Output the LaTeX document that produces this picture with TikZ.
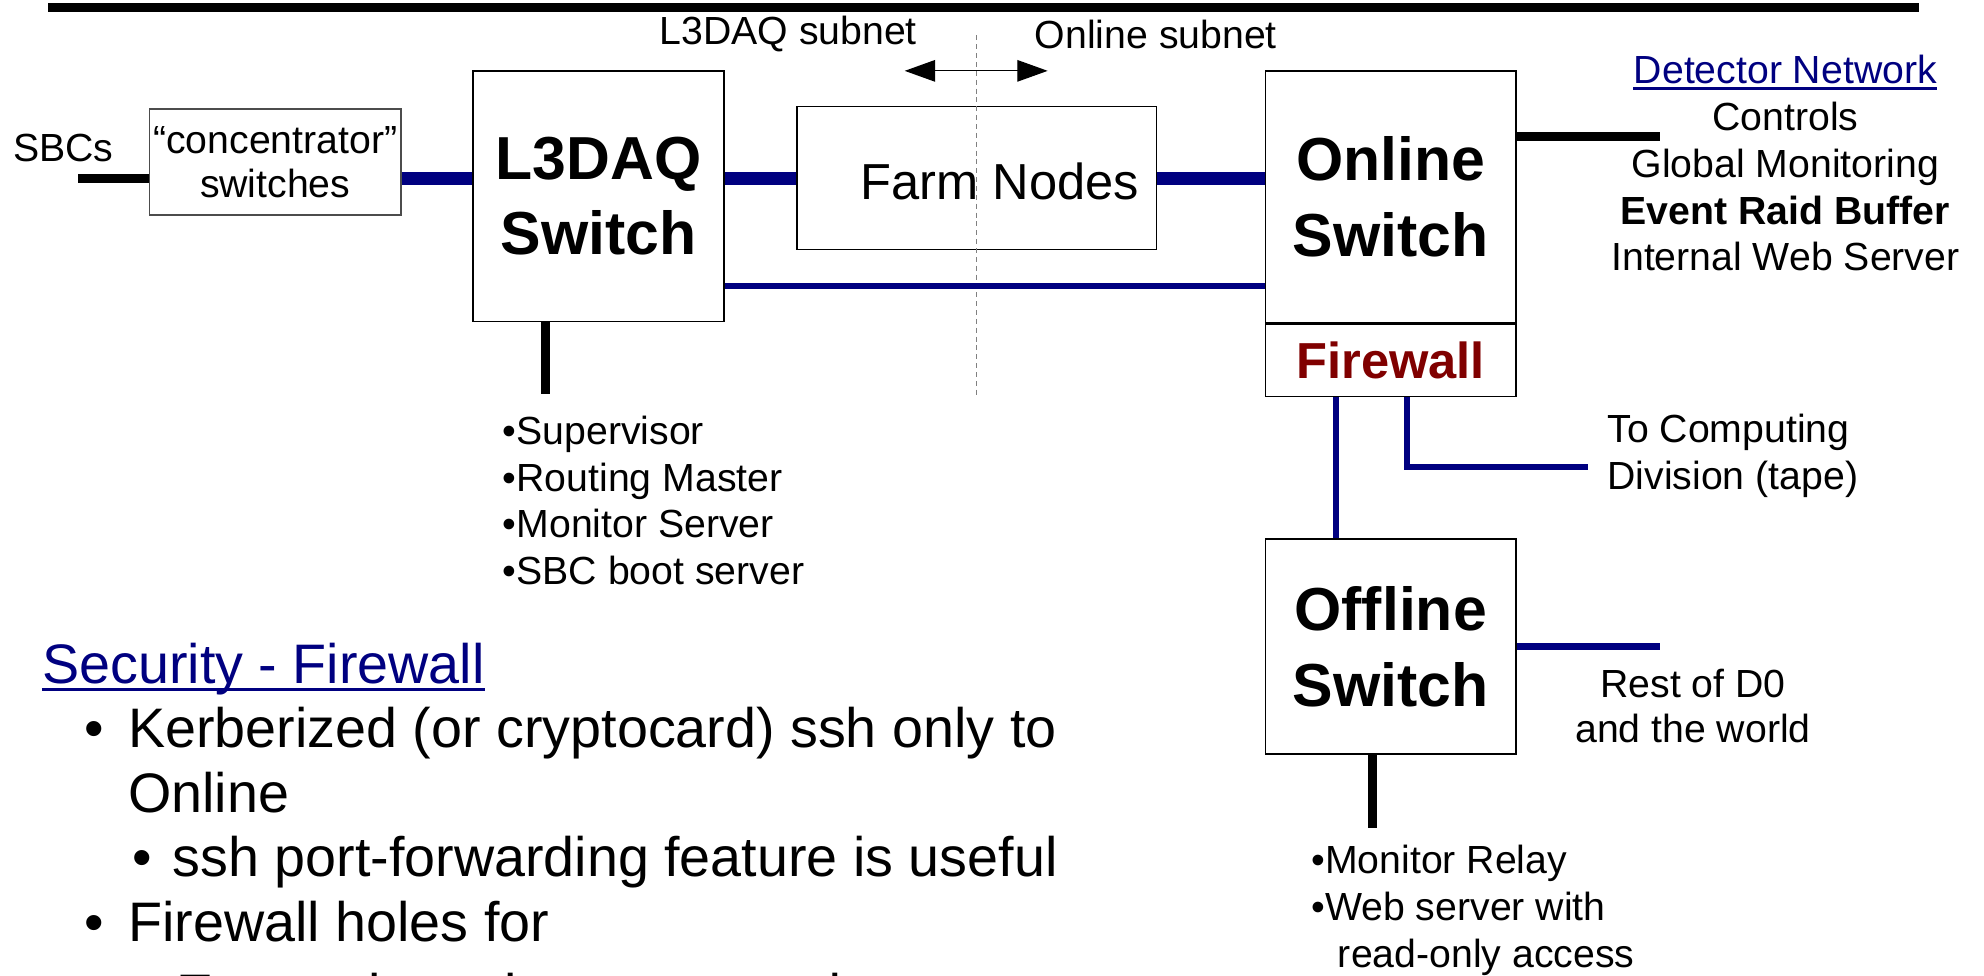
\documentclass[tikz,border=0pt]{standalone}
\usepackage{fontspec}
\setmainfont{Liberation Sans}
\usepackage{xcolor}
\usetikzlibrary{arrows.meta,positioning,calc}

\definecolor{netblue}{RGB}{0,0,128}
\definecolor{fwred}{RGB}{128,0,0}

\begin{document}
\begin{tikzpicture}[x=0.5pt, y=-0.5pt, >={Triangle[length=12pt,width=8.5pt]},
  box/.style={draw, line width=0.6pt, inner sep=0pt, align=center},
  swbox/.style={box, minimum width=99pt, font=\fontsize{24}{30}\selectfont\bfseries},
  lbl/.style={inner sep=0pt, align=center, font=\fontsize{15.5}{18.5}\selectfont},
  txt/.style={inner sep=0pt, anchor=base west, font=\fontsize{22}{26}\selectfont},
  fat/.style={netblue, line width=5pt},
  lan/.style={netblue, line width=2.5pt},
  wire/.style={black, line width=3.5pt}]
  \useasboundingbox (0,0) rectangle (1568,771);
  % title rule
  \coordinate (barl) at (38,6);
  \coordinate (barr) at (1517,6);
  \draw[line width=3.5pt] (barl) -- (barr);
  % boxes
  \node[box, draw=black!70, minimum width=99.5pt, minimum height=42pt,
    font=\fontsize{15.5}{17.5}\selectfont] (conc) at (217.5,128) {``concentrator''\\switches};
  \node[swbox, minimum height=99pt] (l3daq) at (473,155) {L3DAQ\\Switch};
  \node[box, minimum width=142pt, minimum height=56.5pt] (farm) at (772,140.5) {};
  \node[inner sep=0pt, font=\fontsize{20}{24}\selectfont] (farmtxt) at (790,143) {Farm Nodes};
  \node[swbox, minimum height=99.5pt] (online) at (1099,155.5) {Online\\Switch};
  \node[box, minimum width=99pt, minimum height=28.5pt, anchor=north, text=fwred,
    font=\fontsize{20}{24}\selectfont\bfseries] (fw) at (online.south) {Firewall};
  \node[swbox, minimum height=85pt] (offline) at (1099,511) {Offline\\Switch};
  % subnet divider
  \coordinate (divtop) at (772,28);
  \coordinate (divbot) at (772,312);
  \draw[gray, line width=0.5pt, dash pattern=on 2pt off 1.5pt] (divtop) -- (divbot);
  \node[lbl] (l3sub) at (623,27) {L3DAQ subnet};
  \node[lbl] (onsub) at (913.5,27) {Online subnet};
  \coordinate (subl) at (715,56);
  \coordinate (subr) at (828,56);
  \draw[<->, line width=0.5pt] (subl) -- (subr);
  % links
  \coordinate (bus) at (0,141);
  \coordinate (sbcend) at (62,141);
  \node[lbl] (sbcs) at (50,117) {SBCs};
  \draw[wire] (sbcend) -- (sbcend -| conc.west);
  \draw[fat] (conc.east |- bus) -- (l3daq.west |- bus);
  \draw[fat] (l3daq.east |- bus) -- (farm.west |- bus);
  \draw[fat] (farm.east |- bus) -- (online.west |- bus);
  \coordinate (direct) at (0,226);
  \draw[lan] (l3daq.east |- direct) -- (online.west |- direct);
  % detector network
  \coordinate (detend) at (1312,108);
  \draw[wire] (online.east |- detend) -- (detend);
  \node[lbl, text=netblue] (detnet) at (1411,55) {Detector Network};
  \draw[netblue, line width=1pt] ($(detnet.south west)+(0,3)$) -- ($(detnet.south east)+(0,3)$);
  \node[lbl] (detlist) at (1411,147.5) {Controls\\Global Monitoring\\\textbf{Event Raid Buffer}\\Internal Web Server};
  % firewall exits
  \coordinate (fwdown) at (1056,0);
  \draw[lan] (fw.south -| fwdown) -- (offline.north -| fwdown);
  \coordinate (tapeend) at (1255,369);
  \draw[lan] (fw.south -| tapeend) ++(-143,0) |- (tapeend);
  \node[lbl, anchor=west, align=left] (tape) at (1270,360) {To Computing\\Division (tape)};
  \coordinate (worldend) at (1312,511);
  \draw[lan] (offline.east |- worldend) -- (worldend);
  \node[lbl, font=\fontsize{15.5}{18}\selectfont] (world) at (1338,558) {Rest of D0\\and the world};
  % host lists
  \coordinate (l3end) at (431,311);
  \draw[wire] (l3daq.south -| l3end) -- (l3end);
  \node[lbl, anchor=west, align=left] (l3list) at (397,395.5)
    {•Supervisor\\•Routing Master\\•Monitor Server\\•SBC boot server};
  \coordinate (offend) at (1085,654);
  \draw[wire] (offline.south -| offend) -- (offend);
  \node[lbl, anchor=west, align=left] (offlist) at (1036,719.5)
    {•Monitor Relay\\•Web server with\\\hspace*{10.5pt}read-only access};
  % security notes
  \node[txt, text=netblue] (sec) at (33,540) {Security - Firewall};
  \draw[netblue, line width=1.2pt] ($(sec.base west)+(0,5)$) -- ($(sec.base east)+(0,5)$);
  \node[txt] (b1) at (66,591) {•};
  \node[txt] (t1) at (101,591) {Kerberized (or cryptocard) ssh only to};
  \node[txt] (t1b) at (101,642) {Online};
  \node[txt] (b2) at (104,693) {•};
  \node[txt] (t2) at (136,693) {ssh port-forwarding feature is useful};
  \node[txt] (b3) at (66,744) {•};
  \node[txt] (t3) at (101,744) {Firewall holes for};
  \node[txt] (b4) at (104,801) {•};
  \node[txt] (t4) at (139,801) {External monitor commands};
\end{tikzpicture}
\end{document}
